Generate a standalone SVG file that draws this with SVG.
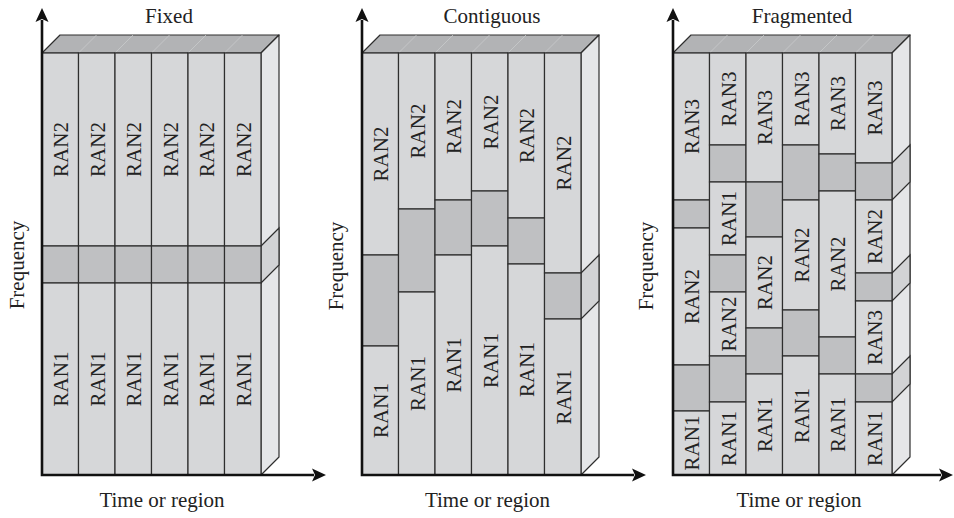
<svg xmlns="http://www.w3.org/2000/svg" width="954" height="518" viewBox="0 0 954 518" font-family="'Liberation Serif', 'DejaVu Serif', serif">
<style>
text{font-family:'Liberation Serif','DejaVu Serif',serif;font-size:21px;fill:#222}
.l{fill:#d6d7d9;stroke:#2e2e2e;stroke-width:1.2}
.d{fill:#bfc0c2;stroke:#2e2e2e;stroke-width:1.2}
.top{fill:#b2b3b5;stroke:#2e2e2e;stroke-width:1.2;stroke-linejoin:round}
.side{fill:#e5e6e8;stroke:#2e2e2e;stroke-width:1.2;stroke-linejoin:round}
.sd{fill:#d2d3d5;stroke:#2e2e2e;stroke-width:1.2}
.tl{stroke:#c9cacc;stroke-width:0.8}
.ax{fill:none;stroke:#111;stroke-width:2.6}
.ah{fill:#111}
</style>
<defs>
<g id="topface">
<polygon class="top" points="42,53 60,35 279,35 261,53"/>
<line class="tl" x1="78.5" y1="53" x2="96.5" y2="35"/>
<line class="tl" x1="115" y1="53" x2="133" y2="35"/>
<line class="tl" x1="151.5" y1="53" x2="169.5" y2="35"/>
<line class="tl" x1="188" y1="53" x2="206" y2="35"/>
<line class="tl" x1="224.5" y1="53" x2="242.5" y2="35"/>
<polygon class="side" points="261,53 279,35 279,457 261,475"/>
</g>
</defs>

<!-- Panel 1: Fixed -->
<g id="fixed">
<use href="#topface"/>
<polygon class="sd" points="261,246 279,228 279,265 261,283"/>
<g id="fixed-cols">
<rect class="l" x="42" y="53" width="36.5" height="193"/><rect class="d" x="42" y="246" width="36.5" height="37"/><rect class="l" x="42" y="283" width="36.5" height="192"/>
<rect class="l" x="78.5" y="53" width="36.5" height="193"/><rect class="d" x="78.5" y="246" width="36.5" height="37"/><rect class="l" x="78.5" y="283" width="36.5" height="192"/>
<rect class="l" x="115" y="53" width="36.5" height="193"/><rect class="d" x="115" y="246" width="36.5" height="37"/><rect class="l" x="115" y="283" width="36.5" height="192"/>
<rect class="l" x="151.5" y="53" width="36.5" height="193"/><rect class="d" x="151.5" y="246" width="36.5" height="37"/><rect class="l" x="151.5" y="283" width="36.5" height="192"/>
<rect class="l" x="188" y="53" width="36.5" height="193"/><rect class="d" x="188" y="246" width="36.5" height="37"/><rect class="l" x="188" y="283" width="36.5" height="192"/>
<rect class="l" x="224.5" y="53" width="36.5" height="193"/><rect class="d" x="224.5" y="246" width="36.5" height="37"/><rect class="l" x="224.5" y="283" width="36.5" height="192"/>
</g>
<g id="fixed-labels" text-anchor="middle">
<text transform="translate(68,149.5) rotate(-90)">RAN2</text>
<text transform="translate(104.5,149.5) rotate(-90)">RAN2</text>
<text transform="translate(141,149.5) rotate(-90)">RAN2</text>
<text transform="translate(177.5,149.5) rotate(-90)">RAN2</text>
<text transform="translate(214,149.5) rotate(-90)">RAN2</text>
<text transform="translate(250.5,149.5) rotate(-90)">RAN2</text>
<text transform="translate(68,379) rotate(-90)">RAN1</text>
<text transform="translate(104.5,379) rotate(-90)">RAN1</text>
<text transform="translate(141,379) rotate(-90)">RAN1</text>
<text transform="translate(177.5,379) rotate(-90)">RAN1</text>
<text transform="translate(214,379) rotate(-90)">RAN1</text>
<text transform="translate(250.5,379) rotate(-90)">RAN1</text>
</g>
<text x="169" y="23" text-anchor="middle">Fixed</text>
<text x="162" y="507" text-anchor="middle">Time or region</text>
<text transform="translate(24,265) rotate(-90)" text-anchor="middle">Frequency</text>
</g>

<!-- Panel 2: Contiguous -->
<g id="contiguous" transform="translate(320,0)">
<use href="#topface"/>
<polygon class="sd" points="261,273 279,255 279,301 261,319"/>
<g id="contiguous-cols">
<rect class="l" x="42" y="53" width="36.5" height="202"/><rect class="d" x="42" y="255" width="36.5" height="91"/><rect class="l" x="42" y="346" width="36.5" height="129"/>
<rect class="l" x="78.5" y="53" width="36.5" height="156"/><rect class="d" x="78.5" y="209" width="36.5" height="83"/><rect class="l" x="78.5" y="292" width="36.5" height="183"/>
<rect class="l" x="115" y="53" width="36.5" height="147"/><rect class="d" x="115" y="200" width="36.5" height="55"/><rect class="l" x="115" y="255" width="36.5" height="220"/>
<rect class="l" x="151.5" y="53" width="36.5" height="138"/><rect class="d" x="151.5" y="191" width="36.5" height="55"/><rect class="l" x="151.5" y="246" width="36.5" height="229"/>
<rect class="l" x="188" y="53" width="36.5" height="165"/><rect class="d" x="188" y="218" width="36.5" height="46"/><rect class="l" x="188" y="264" width="36.5" height="211"/>
<rect class="l" x="224.5" y="53" width="36.5" height="220"/><rect class="d" x="224.5" y="273" width="36.5" height="46"/><rect class="l" x="224.5" y="319" width="36.5" height="156"/>
</g>
<g id="contiguous-labels" text-anchor="middle">
<text transform="translate(68,154) rotate(-90)">RAN2</text>
<text transform="translate(104.5,131) rotate(-90)">RAN2</text>
<text transform="translate(141,126.5) rotate(-90)">RAN2</text>
<text transform="translate(177.5,122) rotate(-90)">RAN2</text>
<text transform="translate(214,135.5) rotate(-90)">RAN2</text>
<text transform="translate(250.5,163) rotate(-90)">RAN2</text>
<text transform="translate(68,410.5) rotate(-90)">RAN1</text>
<text transform="translate(104.5,383.5) rotate(-90)">RAN1</text>
<text transform="translate(141,365) rotate(-90)">RAN1</text>
<text transform="translate(177.5,360.5) rotate(-90)">RAN1</text>
<text transform="translate(214,369.5) rotate(-90)">RAN1</text>
<text transform="translate(250.5,397) rotate(-90)">RAN1</text>
</g>
<text x="172" y="23" text-anchor="middle">Contiguous</text>
<text x="167.5" y="507" text-anchor="middle">Time or region</text>
<text transform="translate(23,266) rotate(-90)" text-anchor="middle">Frequency</text>
</g>

<!-- Panel 3: Fragmented -->
<g id="fragmented" transform="translate(631,0)">
<use href="#topface"/>
<polygon class="sd" points="261,163 279,145 279,182 261,200"/>
<polygon class="sd" points="261,273 279,255 279,283 261,301"/>
<polygon class="sd" points="261,374 279,356 279,384 261,402"/>
<g id="fragmented-cols">
<rect class="l" x="42" y="53" width="36.5" height="147"/><rect class="d" x="42" y="200" width="36.5" height="28"/><rect class="l" x="42" y="228" width="36.5" height="137"/><rect class="d" x="42" y="365" width="36.5" height="46"/><rect class="l" x="42" y="411" width="36.5" height="64"/>
<rect class="l" x="78.5" y="53" width="36.5" height="92"/><rect class="d" x="78.5" y="145" width="36.5" height="37"/><rect class="l" x="78.5" y="182" width="36.5" height="73"/><rect class="d" x="78.5" y="255" width="36.5" height="37"/><rect class="l" x="78.5" y="292" width="36.5" height="64"/><rect class="d" x="78.5" y="356" width="36.5" height="46"/><rect class="l" x="78.5" y="402" width="36.5" height="73"/>
<rect class="l" x="115" y="53" width="36.5" height="129"/><rect class="d" x="115" y="182" width="36.5" height="55"/><rect class="l" x="115" y="237" width="36.5" height="91"/><rect class="d" x="115" y="328" width="36.5" height="46"/><rect class="l" x="115" y="374" width="36.5" height="101"/>
<rect class="l" x="151.5" y="53" width="36.5" height="92"/><rect class="d" x="151.5" y="145" width="36.5" height="55"/><rect class="l" x="151.5" y="200" width="36.5" height="110"/><rect class="d" x="151.5" y="310" width="36.5" height="46"/><rect class="l" x="151.5" y="356" width="36.5" height="119"/>
<rect class="l" x="188" y="53" width="36.5" height="101"/><rect class="d" x="188" y="154" width="36.5" height="37"/><rect class="l" x="188" y="191" width="36.5" height="146"/><rect class="d" x="188" y="337" width="36.5" height="37"/><rect class="l" x="188" y="374" width="36.5" height="101"/>
<rect class="l" x="224.5" y="53" width="36.5" height="110"/><rect class="d" x="224.5" y="163" width="36.5" height="37"/><rect class="l" x="224.5" y="200" width="36.5" height="73"/><rect class="d" x="224.5" y="273" width="36.5" height="28"/><rect class="l" x="224.5" y="301" width="36.5" height="73"/><rect class="d" x="224.5" y="374" width="36.5" height="28"/><rect class="l" x="224.5" y="402" width="36.5" height="73"/>
</g>
<g id="fragmented-labels" text-anchor="middle">
<text transform="translate(68,126.5) rotate(-90)">RAN3</text>
<text transform="translate(68,296.5) rotate(-90)">RAN2</text>
<text transform="translate(68,443) rotate(-90)">RAN1</text>
<text transform="translate(104.5,99) rotate(-90)">RAN3</text>
<text transform="translate(104.5,218.5) rotate(-90)">RAN1</text>
<text transform="translate(104.5,324) rotate(-90)">RAN2</text>
<text transform="translate(104.5,438.5) rotate(-90)">RAN1</text>
<text transform="translate(141,117.5) rotate(-90)">RAN3</text>
<text transform="translate(141,282.5) rotate(-90)">RAN2</text>
<text transform="translate(141,424.5) rotate(-90)">RAN1</text>
<text transform="translate(177.5,99) rotate(-90)">RAN3</text>
<text transform="translate(177.5,255) rotate(-90)">RAN2</text>
<text transform="translate(177.5,415.5) rotate(-90)">RAN1</text>
<text transform="translate(214,103.5) rotate(-90)">RAN3</text>
<text transform="translate(214,264) rotate(-90)">RAN2</text>
<text transform="translate(214,424.5) rotate(-90)">RAN1</text>
<text transform="translate(250.5,108) rotate(-90)">RAN3</text>
<text transform="translate(250.5,236.5) rotate(-90)">RAN2</text>
<text transform="translate(250.5,337.5) rotate(-90)">RAN3</text>
<text transform="translate(250.5,438.5) rotate(-90)">RAN1</text>
</g>
<text x="171" y="23" text-anchor="middle">Fragmented</text>
<text x="168" y="507" text-anchor="middle">Time or region</text>
<text transform="translate(22,266) rotate(-90)" text-anchor="middle">Frequency</text>
</g>

<!-- Connectors: axes -->
<g id="axes">
<path class="ax" d="M42,20 V475 H314"/>
<path class="ah" d="M42,8 L35.5,22 L42,19 L48.5,22 Z"/>
<path class="ah" d="M326,475 L312,468.5 L315,475 L312,481.5 Z"/>
<path class="ax" d="M362,20 V475 H634"/>
<path class="ah" d="M362,8 L355.5,22 L362,19 L368.5,22 Z"/>
<path class="ah" d="M646,475 L632,468.5 L635,475 L632,481.5 Z"/>
<path class="ax" d="M673,20 V475 H941"/>
<path class="ah" d="M673,8 L666.5,22 L673,19 L679.5,22 Z"/>
<path class="ah" d="M953,475 L939,468.5 L942,475 L939,481.5 Z"/>
</g>
</svg>
